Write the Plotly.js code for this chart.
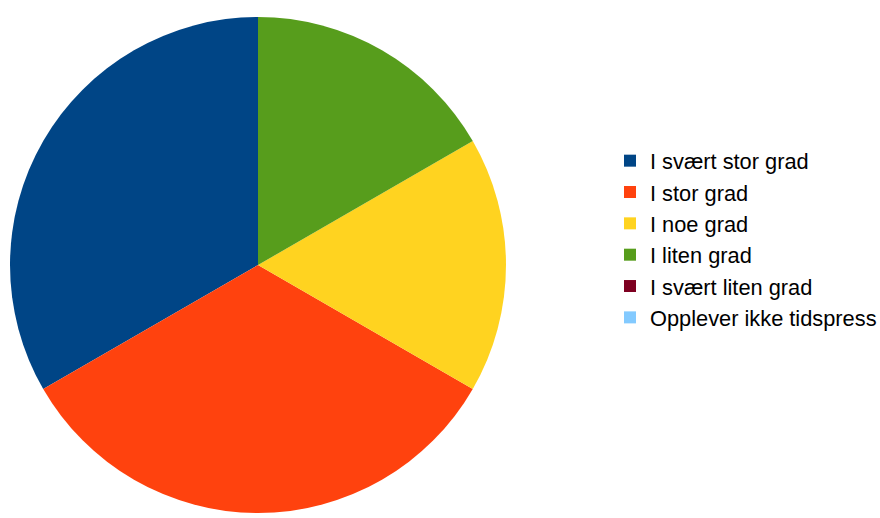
<!DOCTYPE html>
<html>
<head>
<meta charset="utf-8">
<script src="https://cdn.plot.ly/plotly-3.0.1.min.js"></script>
<style>html,body{margin:0;padding:0;background:#fff;overflow:hidden;}#chart{width:920px;height:518px;}</style>
</head>
<body>
<div id="chart"></div>
<script>
const labels = ["I svært stor grad", "I stor grad", "I noe grad", "I liten grad", "I svært liten grad", "Opplever ikke tidspress"];
const values = [2, 2, 1, 1, 0, 0];
const colors = ["#004586", "#ff420e", "#ffd320", "#579d1c", "#7e0021", "#83caff"];

const W = 920, H = 518;
const trace = {
  type: "pie",
  labels: labels,
  values: values,
  sort: false,
  direction: "counterclockwise",
  rotation: -120,
  textinfo: "none",
  hoverinfo: "label+value+percent",
  marker: {colors: colors, line: {width: 0}},
  domain: {x: [10 / W, 506 / W], y: [(H - 513) / H, (H - 17) / H]}
};
const layout = {
  width: W, height: H,
  margin: {l: 0, r: 0, t: 0, b: 0},
  paper_bgcolor: "#ffffff",
  showlegend: true,
  legend: {
    x: 610 / W, xanchor: "left",
    y: (H - 140) / H, yanchor: "top",
    font: {family: "Liberation Sans, Arial, sans-serif", size: 21.8, color: "#000000"},
    bgcolor: "rgba(0,0,0,0)",
    borderwidth: 0
  }
};
Plotly.newPlot("chart", [trace], layout, {displayModeBar: false, staticPlot: true});
</script>
</body>
</html>
